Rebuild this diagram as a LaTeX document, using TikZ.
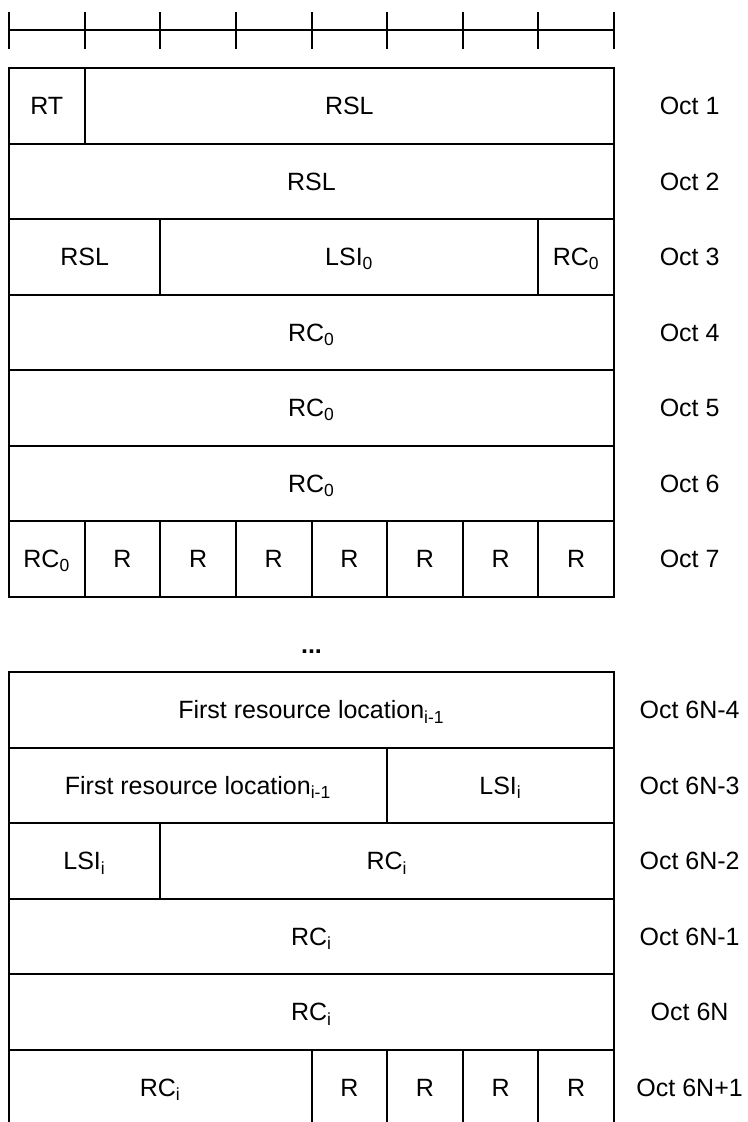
\documentclass[tikz,border=0pt]{standalone}
\usepackage{fontspec}
\setmainfont{Liberation Sans}
\usepackage{tikz}
\usetikzlibrary{positioning}

\begin{document}
\begin{tikzpicture}[
            x=37.8125pt,
            y=37.75pt,
            font=\fontsize{12.5}{15}\selectfont,
            field/.style={rectangle, draw=black, line width=1pt, inner sep=0pt, outer sep=0pt, minimum height=37.75pt, text height=9pt, text depth=0pt, text centered},
            cols/.style={minimum width=#1*37.8125pt},
            octet/.style={rectangle, inner sep=0pt, text height=9pt, text depth=0pt, text centered},
            ruler/.style={line width=1pt}
        ]

        \useasboundingbox (-0.119,0.9007) rectangle (9.759,-13.96);

        % Bit ruler
        \draw [ruler] (0,0.503) -- (8,0.503);
        \draw [ruler] (0,0.25) -- (0,0.74) (1,0.25) -- (1,0.74) (2,0.25) -- (2,0.74)
                      (3,0.25) -- (3,0.74) (4,0.25) -- (4,0.74) (5,0.25) -- (5,0.74)
                      (6,0.25) -- (6,0.74) (7,0.25) -- (7,0.74) (8,0.25) -- (8,0.74);

        % Oct 1
        \node (rt) [field, cols=1] at (0.5,-0.5) {RT};
        \node (rsl1) [field, cols=7] at (4.5,-0.5) {RSL};
        \node (oct1) [octet] at (9,-0.5) {Oct 1};

        % Oct 2
        \node (rsl2) [field, cols=8] at (4,-1.5) {RSL};
        \node (oct2) [octet] at (9,-1.5) {Oct 2};

        % Oct 3
        \node (rsl3) [field, cols=2] at (1,-2.5) {RSL};
        \node (lsi0) [field, cols=5] at (4.5,-2.5) {LSI\textsubscript{0}};
        \node (rc0a) [field, cols=1] at (7.5,-2.5) {RC\textsubscript{0}};
        \node (oct3) [octet] at (9,-2.5) {Oct 3};

        % Oct 4 - Oct 6
        \node (rc0b) [field, cols=8] at (4,-3.5) {RC\textsubscript{0}};
        \node (oct4) [octet] at (9,-3.5) {Oct 4};
        \node (rc0c) [field, cols=8] at (4,-4.5) {RC\textsubscript{0}};
        \node (oct5) [octet] at (9,-4.5) {Oct 5};
        \node (rc0d) [field, cols=8] at (4,-5.5) {RC\textsubscript{0}};
        \node (oct6) [octet] at (9,-5.5) {Oct 6};

        % Oct 7
        \node (rc0e) [field, cols=1] at (0.5,-6.5) {RC\textsubscript{0}};
        \node (r1) [field, cols=1] at (1.5,-6.5) {R};
        \node (r2) [field, cols=1] at (2.5,-6.5) {R};
        \node (r3) [field, cols=1] at (3.5,-6.5) {R};
        \node (r4) [field, cols=1] at (4.5,-6.5) {R};
        \node (r5) [field, cols=1] at (5.5,-6.5) {R};
        \node (r6) [field, cols=1] at (6.5,-6.5) {R};
        \node (r7) [field, cols=1] at (7.5,-6.5) {R};
        \node (oct7) [octet] at (9,-6.5) {Oct 7};

        % Gap
        \node (dots) [octet] at (4,-7.64) {\textbf{...}};

        % Oct 6N-4
        \node (frla) [field, cols=8] at (4,-8.5) {First resource location\textsubscript{i-1}};
        \node (octa) [octet] at (9,-8.5) {Oct 6N-4};

        % Oct 6N-3
        \node (frlb) [field, cols=5] at (2.5,-9.5) {First resource location\textsubscript{i-1}};
        \node (lsia) [field, cols=3] at (6.5,-9.5) {LSI\textsubscript{i}};
        \node (octb) [octet] at (9,-9.5) {Oct 6N-3};

        % Oct 6N-2
        \node (lsib) [field, cols=2] at (1,-10.5) {LSI\textsubscript{i}};
        \node (rcia) [field, cols=6] at (5,-10.5) {RC\textsubscript{i}};
        \node (octc) [octet] at (9,-10.5) {Oct 6N-2};

        % Oct 6N-1, Oct 6N
        \node (rcib) [field, cols=8] at (4,-11.5) {RC\textsubscript{i}};
        \node (octd) [octet] at (9,-11.5) {Oct 6N-1};
        \node (rcic) [field, cols=8] at (4,-12.5) {RC\textsubscript{i}};
        \node (octe) [octet] at (9,-12.5) {Oct 6N};

        % Oct 6N+1
        \node (rcid) [field, cols=4] at (2,-13.5) {RC\textsubscript{i}};
        \node (r8) [field, cols=1] at (4.5,-13.5) {R};
        \node (r9) [field, cols=1] at (5.5,-13.5) {R};
        \node (r10) [field, cols=1] at (6.5,-13.5) {R};
        \node (r11) [field, cols=1] at (7.5,-13.5) {R};
        \node (octf) [octet] at (9,-13.5) {Oct 6N+1};

    \end{tikzpicture}
\end{document}
